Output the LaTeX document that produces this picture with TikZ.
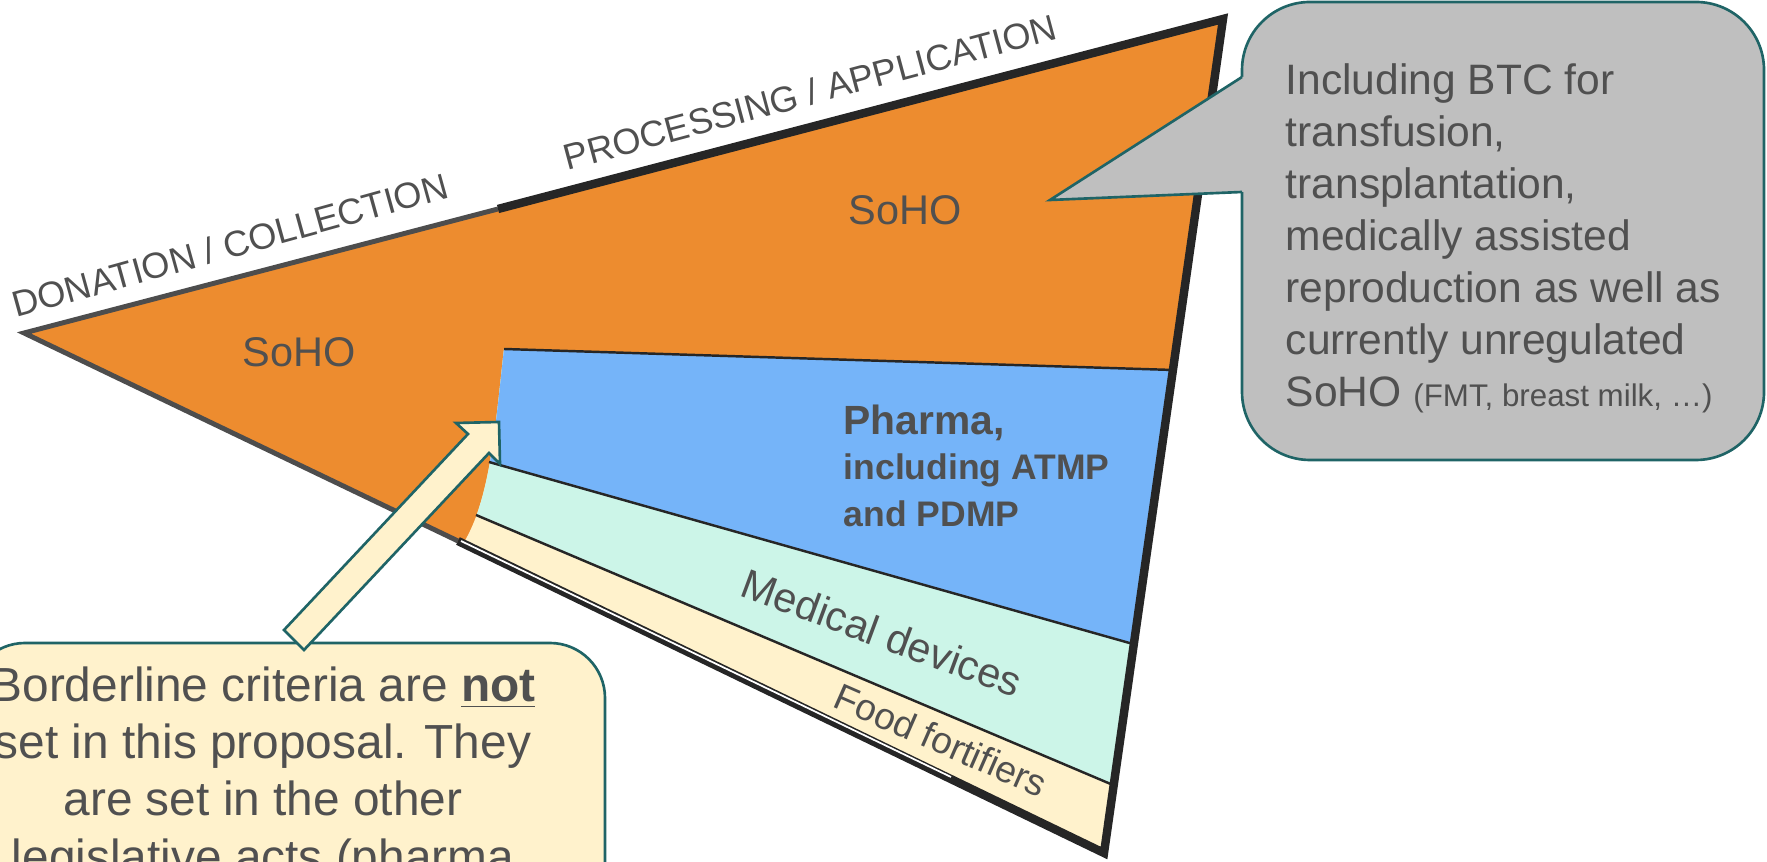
\documentclass[tikz,border=0pt]{standalone}
\usepackage{fontspec}
\setmainfont{Liberation Sans}
\definecolor{sohoorange}{HTML}{ED8C2F}
\definecolor{pharmablue}{HTML}{75B4F9}
\definecolor{devmint}{HTML}{CCF5E8}
\definecolor{foodbeige}{HTML}{FFF2CC}
\definecolor{notegray}{HTML}{BFBFBF}
\definecolor{noteteal}{HTML}{1F6466}
\definecolor{txtgray}{HTML}{505050}
\definecolor{edgegray}{HTML}{4D4D4D}
\definecolor{edgeblack}{HTML}{262626}

\begin{document}
\begin{tikzpicture}[x=0.01cm, y=-0.01cm,
  lbl/.style={text=txtgray, inner sep=0pt},
  bandline/.style={edgeblack, line width=0.7pt},
  noteline/.style={noteteal, line width=0.75pt}]
\useasboundingbox (0,0) rectangle (1767,862);

\coordinate (tip) at (24,333);
\coordinate (mid) at (498,209);
\coordinate (topright) at (1223,19);
\coordinate (botright) at (1104,853);
\coordinate (botmid) at (458,541);

% wedge
\fill[sohoorange] (tip) -- (topright) -- (botright) -- cycle;

\begin{scope}
\clip (504,349) -- (1173,370) -- (botright) -- (463,544) .. controls (490,500) and (495,430) .. (504,349);
\fill[foodbeige] (400,300) rectangle (1300,900);
\fill[devmint] (400,300) -- (1300,300) -- (1300,864) -- (400,483) -- cycle;
\fill[pharmablue] (400,300) -- (1300,300) -- (1300,690) -- (400,438) -- cycle;
\end{scope}

\draw[bandline] (504,349) -- (1173,370);
\draw[bandline] (489,462) -- (1133,644);
\draw[bandline] (476,515) -- (1113,785);

\draw[edgegray, line width=1.4pt] (botmid) -- (tip) -- (mid);
\draw[edgeblack, line width=2.4pt] (mid) -- (topright) -- (botright) -- (botmid);
\draw[white, line width=0.5pt] (461,541) -- (951,777);

\node[lbl, rotate=15.5, font=\fontsize{10.3}{12}\selectfont] (donation) at (230,245) {DONATION / COLLECTION};
\node[lbl, rotate=15, font=\fontsize{10.3}{12}\selectfont] (processing) at (810,92) {PROCESSING / APPLICATION};

\node[lbl, font=\fontsize{11.8}{14}\selectfont] (soholeft) at (299,352) {SoHO};
\node[lbl, font=\fontsize{11.8}{14}\selectfont] (sohoright) at (905,210) {SoHO};

\node[lbl, anchor=base west, font=\bfseries\fontsize{11.6}{14}\selectfont] (pharma) at (843,435) {Pharma,};
\node[lbl, anchor=base west, font=\bfseries\fontsize{10.1}{12}\selectfont] (atmp) at (843,480) {including ATMP};
\node[lbl, anchor=base west, font=\bfseries\fontsize{10.1}{12}\selectfont] (pdmp) at (843,527) {and PDMP};

\node[lbl, rotate=-20.3, font=\fontsize{11.8}{13}\selectfont] (meddev) at (882,633) {Medical devices};
\node[lbl, rotate=-23.6, font=\fontsize{10.6}{12}\selectfont] (food) at (941,740) {Food fortifiers};

% grey note
\draw[noteline, fill=notegray, rounded corners=0.68cm] (1242,2) rectangle (1764,460);
\fill[notegray] (1245,77) -- (1242,77) -- (1050,200) -- (1242,192) -- (1245,192) -- cycle;
\draw[noteline] (1242,77) -- (1050,200) -- (1242,192);
\node[lbl, anchor=north west, align=left, font=\fontsize{12.1}{14.8}\selectfont] (btcnote) at (1285,63)
  {Including BTC for\\ transfusion,\\ transplantation,\\ medically assisted\\ reproduction as well as\\ currently unregulated\\ SoHO {\fontsize{8.9}{14.8}\selectfont (FMT, breast milk, …)}};

% yellow note
\draw[noteline, fill=foodbeige, rounded corners=0.55cm] (-30,643) rectangle (605,1000);
\node[lbl, anchor=north, align=center, font=\fontsize{13.6}{16.3}\selectfont] (borderline) at (263,666)
  {Borderline criteria are \underline{\textbf{not}}\\ set in this proposal. They\\ are set in the other\\ legislative acts (pharma};

\coordinate (arrowtip) at (499,422);
\filldraw[noteline, fill=foodbeige] (284,630) -- (468,434) -- (456,423) -- (arrowtip) -- (500,464) -- (489,453) -- (304,650) -- cycle;
\end{tikzpicture}
\end{document}
